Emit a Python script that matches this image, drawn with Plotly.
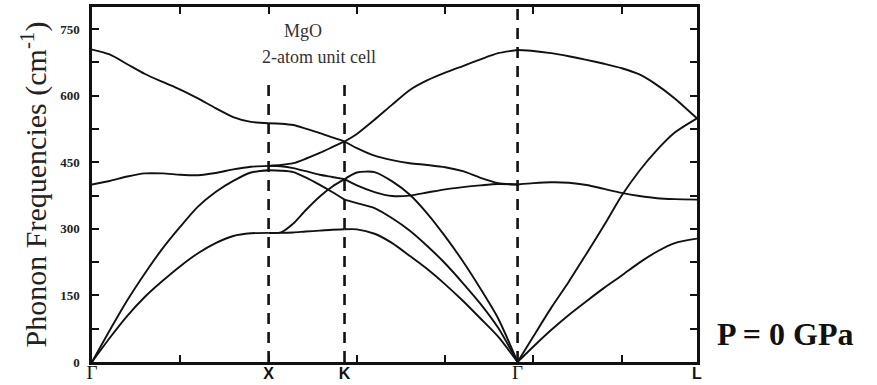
import plotly.graph_objects as go

# ---------------- data ----------------
# high-symmetry points along the path (x coordinate, label)
kpoint_pos = [0.0, 1.0, 1.43, 2.41, 3.426]
kpoint_lbl = ["Γ", "X", "K", "Γ", "L"]
minor_k_ticks = [0.5, 1.0, 1.5, 2.0, 2.5, 3.0]

# Gamma -> X
gx_k = [0.0, 0.1, 0.2, 0.3, 0.4, 0.5, 0.6, 0.7, 0.8, 0.9, 1.0]
gx_lo = [704, 693, 671, 649, 631, 614, 594, 572, 552, 541, 538]
gx_to = [400, 408, 418, 425, 425, 422, 421, 426, 434, 440, 442]
gx_la = [0, 71, 139, 200, 256, 305, 350, 383, 408, 427, 432]
gx_ta = [0, 54, 104, 147, 183, 216, 245, 268, 284, 290, 291]

# X -> K
xk_k = [1.0, 1.07, 1.14, 1.21, 1.29, 1.36, 1.43]
xk_b1 = [442, 444, 448, 458, 471, 484, 497]
xk_b2 = [538, 537, 534, 526, 516, 506, 497]
xk_b3 = [291, 292, 312, 342, 373, 395, 412]
xk_b4 = [442, 441, 437, 430, 422, 417, 412]
xk_b5 = [432, 431, 428, 416, 399, 383, 366]
xk_b6 = [291, 291, 292, 294, 296, 298, 299]

# K -> Gamma
kg_k = [1.43, 1.5, 1.6, 1.7, 1.8, 1.9, 2.0, 2.1, 2.2, 2.3, 2.41]
kg_b1 = [497, 514, 546, 580, 613, 635, 652, 667, 682, 696, 703]
kg_b2 = [497, 482, 465, 455, 448, 444, 439, 430, 415, 403, 400]
kg_b3 = [412, 427, 428, 407, 377, 334, 283, 227, 165, 98, 0]
kg_b4 = [412, 398, 383, 374, 375, 382, 389, 394, 398, 401, 400]
kg_b5 = [366, 358, 347, 324, 296, 261, 222, 178, 131, 77, 0]
kg_b6 = [299, 299, 289, 268, 239, 209, 175, 138, 98, 57, 0]

# Gamma -> L
gl_k = [2.41, 2.5, 2.6, 2.7, 2.8, 2.9, 3.0, 3.1, 3.2, 3.3, 3.426]
gl_lo = [703, 701, 696, 689, 681, 672, 662, 648, 624, 594, 549]
gl_to = [400, 403, 405, 404, 399, 390, 381, 374, 369, 367, 366]
gl_la = [0, 58, 122, 181, 244, 308, 375, 431, 478, 517, 549]
gl_ta = [0, 35, 72, 106, 137, 167, 195, 224, 249, 268, 278]

# dashed guide lines: (k position, top frequency)
guide_k = [1.0, 1.43, 2.41]
guide_top = [625, 625, 800]

y_major = [0, 150, 300, 450, 600, 750]
y_minor = [75, 225, 375, 525, 675]

# ---------------- figure ----------------
fig = go.Figure()

line_style = dict(color="#111111", width=1.9, shape="spline", smoothing=0.7)

segments = [
    (gx_k, [gx_lo, gx_to, gx_la, gx_ta]),
    (xk_k, [xk_b1, xk_b2, xk_b3, xk_b4, xk_b5, xk_b6]),
    (kg_k, [kg_b1, kg_b2, kg_b3, kg_b4, kg_b5, kg_b6]),
    (gl_k, [gl_lo, gl_to, gl_la, gl_ta]),
]
for ks, bands in segments:
    for w in bands:
        fig.add_trace(go.Scatter(x=ks, y=w, mode="lines", line=line_style,
                                 showlegend=False, hoverinfo="skip"))

for gk, gt in zip(guide_k, guide_top):
    fig.add_trace(go.Scatter(x=[gk, gk], y=[0, gt], mode="lines", xaxis="x2",
                             line=dict(color="#111111", width=2.6, dash="11px,8px"),
                             showlegend=False, hoverinfo="skip"))

serif = "Liberation Serif, Times New Roman, serif"
sans = "Liberation Sans, Arial, sans-serif"

ticktext_x = []
for lbl in kpoint_lbl:
    if lbl == "Γ":
        ticktext_x.append(lbl)
    else:
        ticktext_x.append(
            f"<span style='font-family:{sans};font-weight:bold;font-size:16px'>{lbl}</span>")

x_range = [kpoint_pos[0], kpoint_pos[-1]]
tick_style = dict(ticks="inside", ticklen=7, tickwidth=2, tickcolor="#111111")

fig.update_layout(
    width=877, height=385,
    margin=dict(l=92, r=180, t=7, b=23, autoexpand=False),
    paper_bgcolor="white", plot_bgcolor="white",
    font=dict(family=serif, color="#111111"),
    xaxis=dict(range=x_range, tickvals=kpoint_pos, ticktext=ticktext_x,
               ticks="", showgrid=False, zeroline=False,
               automargin=False, ticklabelstandoff=-9,
               showline=True, linecolor="#111111", linewidth=2.5, mirror=True,
               tickfont=dict(family=serif, size=19, color="#111111")),
    xaxis2=dict(range=x_range, overlaying="x", anchor="y", side="bottom",
                tickvals=minor_k_ticks, showticklabels=False, automargin=False,
                mirror="ticks", showline=True, linecolor="#111111", linewidth=2.5,
                showgrid=False, zeroline=False, **tick_style),
    yaxis=dict(range=[0, 800], tickvals=y_major, automargin=False,
               showline=True, linecolor="#111111", linewidth=2.5, mirror="ticks",
               showgrid=False, zeroline=False, ticklabelstandoff=7,
               minor=dict(tickvals=y_minor, showgrid=False, **tick_style),
               tickfont=dict(family=serif, size=13, color="#222222", weight="bold"),
               title=dict(text="Phonon Frequencies (cm<sup>-1</sup>)",
                          font=dict(family=serif, size=30, color="#222222"),
                          standoff=5),
               **tick_style),
    annotations=[
        dict(text="MgO", x=1.195, y=745, xref="x", yref="y", showarrow=False,
             font=dict(family=serif, size=18, color="#333333"),
             xanchor="center", yanchor="middle"),
        dict(text="2-atom unit cell", x=1.285, y=688, xref="x", yref="y", showarrow=False,
             font=dict(family=serif, size=18, color="#333333"),
             xanchor="center", yanchor="middle"),
        dict(text="<b>P = 0 GPa</b>", x=1.145, y=0.079, xref="paper", yref="paper",
             showarrow=False, font=dict(family=serif, size=32, color="#111111"),
             xanchor="center", yanchor="middle"),
    ],
)

fig.write_html("out.html")
